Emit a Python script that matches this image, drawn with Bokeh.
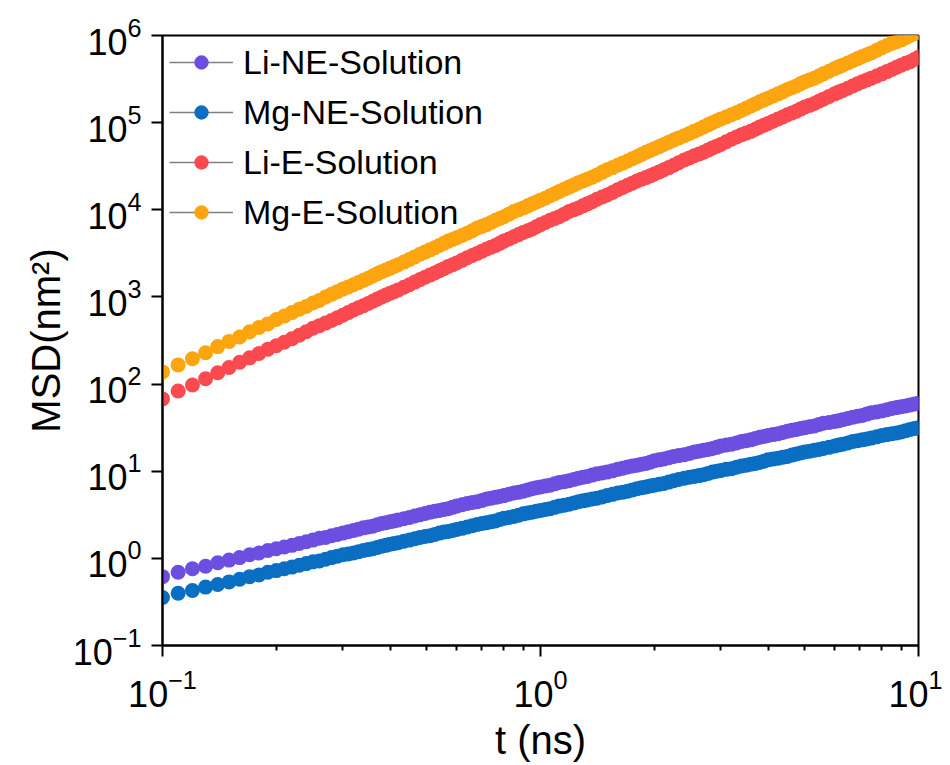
from bokeh.plotting import figure
from bokeh.models import FixedTicker, LogTickFormatter, Legend, LegendItem
from bokeh.embed import file_html
from bokeh.resources import INLINE

# ---- data ----
t_ns = [0.10, 0.11, 0.12, 0.13, 0.14, 0.15, 0.16, 0.17, 0.18, 0.19,
        0.20, 0.21, 0.22, 0.23, 0.24, 0.25, 0.26, 0.27, 0.28, 0.29,
        0.30, 0.31, 0.32, 0.33, 0.34, 0.35, 0.36, 0.37, 0.38, 0.39,
        0.40, 0.41, 0.42, 0.435, 0.45, 0.465, 0.48, 0.495, 0.51, 0.525,
        0.54, 0.555, 0.57, 0.585, 0.60, 0.62, 0.64, 0.66, 0.68, 0.70,
        0.72, 0.74, 0.76, 0.78, 0.80, 0.825, 0.85, 0.875, 0.90, 0.925,
        0.95, 0.975, 1.0, 1.03, 1.06, 1.09, 1.12, 1.155, 1.19, 1.225,
        1.26, 1.295, 1.33, 1.37, 1.41, 1.455, 1.5, 1.55, 1.6, 1.65,
        1.7, 1.75, 1.8, 1.85, 1.9, 1.95, 2.0, 2.06, 2.12, 2.185,
        2.25, 2.32, 2.4, 2.475, 2.55, 2.625, 2.7, 2.775, 2.85, 2.925,
        3.0, 3.1, 3.2, 3.3, 3.4, 3.5, 3.6, 3.7, 3.8, 3.9,
        4.0, 4.125, 4.25, 4.375, 4.5, 4.625, 4.75, 4.875, 5.0, 5.15,
        5.3, 5.45, 5.6, 5.8, 6.0, 6.15, 6.3, 6.5, 6.7, 6.9,
        7.1, 7.3, 7.5, 7.75, 8.0, 8.25, 8.5, 8.75, 9.0, 9.25,
        9.5, 9.75, 10.0]

msd_li_ne = [0.617, 0.692, 0.759, 0.813, 0.891, 0.955, 1.02, 1.10, 1.15, 1.23,
             1.29, 1.35, 1.41, 1.48, 1.55, 1.62, 1.70, 1.74, 1.82, 1.88,
             1.95, 2.02, 2.09, 2.16, 2.24, 2.29, 2.34, 2.43, 2.51, 2.57,
             2.63, 2.69, 2.75, 2.85, 2.95, 3.06, 3.16, 3.27, 3.39, 3.47,
             3.55, 3.63, 3.72, 3.85, 3.98, 4.12, 4.27, 4.37, 4.47, 4.62,
             4.79, 4.90, 5.01, 5.13, 5.25, 5.43, 5.62, 5.75, 5.89, 6.10,
             6.31, 6.46, 6.61, 6.76, 6.92, 7.16, 7.41, 7.59, 7.76, 8.04,
             8.32, 8.51, 8.71, 9.02, 9.33, 9.55, 9.77, 10.1, 10.5, 10.8,
             11.2, 11.5, 11.7, 12.0, 12.3, 12.7, 13.2, 13.5, 13.8, 14.3,
             14.8, 15.1, 15.5, 16.0, 16.6, 17.0, 17.4, 17.8, 18.2, 18.8,
             19.5, 20.0, 20.4, 21.1, 21.9, 22.4, 22.9, 23.7, 24.5, 25.1,
             25.7, 26.3, 26.9, 27.9, 28.8, 29.5, 30.2, 30.9, 31.6, 32.4,
             33.1, 34.3, 35.5, 36.3, 37.2, 38.0, 38.9, 40.3, 41.7, 42.7,
             43.7, 45.2, 46.8, 47.9, 49.0, 50.7, 52.5, 53.7, 55.0, 56.2,
             57.5, 58.9, 60.3]

msd_mg_ne = [0.355, 0.398, 0.427, 0.468, 0.501, 0.537, 0.575, 0.617, 0.646, 0.692,
             0.724, 0.759, 0.794, 0.832, 0.871, 0.912, 0.933, 0.977, 1.02, 1.06,
             1.10, 1.12, 1.15, 1.19, 1.23, 1.26, 1.29, 1.33, 1.38, 1.41,
             1.45, 1.48, 1.51, 1.57, 1.62, 1.68, 1.74, 1.78, 1.82, 1.88,
             1.95, 2.00, 2.04, 2.09, 2.14, 2.21, 2.29, 2.37, 2.45, 2.51,
             2.57, 2.63, 2.69, 2.79, 2.88, 2.95, 3.02, 3.13, 3.24, 3.31,
             3.39, 3.47, 3.55, 3.63, 3.72, 3.85, 3.98, 4.07, 4.17, 4.32,
             4.47, 4.57, 4.68, 4.79, 4.90, 5.07, 5.25, 5.43, 5.62, 5.75,
             5.89, 6.10, 6.31, 6.46, 6.61, 6.76, 6.92, 7.08, 7.24, 7.50,
             7.76, 8.04, 8.32, 8.51, 8.71, 8.91, 9.12, 9.44, 9.77, 10.0,
             10.2, 10.5, 10.7, 11.1, 11.5, 11.7, 12.0, 12.3, 12.6, 13.0,
             13.5, 13.8, 14.1, 14.5, 14.8, 15.3, 15.8, 16.2, 16.6, 17.0,
             17.4, 17.8, 18.2, 18.8, 19.5, 20.0, 20.4, 21.1, 21.9, 22.4,
             22.9, 23.4, 24.0, 24.8, 25.7, 26.3, 26.9, 27.5, 28.2, 29.2,
             30.2, 30.9, 31.6]

msd_li_e = [67.6, 83.2, 97.7, 115, 135, 155, 178, 200, 224, 251,
            275, 302, 331, 363, 398, 437, 468, 501, 537, 575,
            617, 661, 708, 750, 794, 841, 891, 944, 1000, 1050,
            1100, 1150, 1200, 1290, 1380, 1480, 1580, 1680, 1780, 1880,
            2000, 2110, 2240, 2340, 2450, 2630, 2820, 2990, 3160, 3350,
            3550, 3720, 3890, 4120, 4370, 4620, 4900, 5190, 5500, 5750,
            6030, 6380, 6760, 7160, 7590, 7940, 8320, 8910, 9550, 10000,
            10500, 11100, 11700, 12400, 13200, 14000, 14800, 15800, 17000, 18000,
            19100, 20200, 21400, 22400, 23400, 24500, 25700, 27200, 28800, 30500,
            32400, 34700, 37200, 39400, 41700, 43700, 45700, 48400, 51300, 53700,
            56200, 60300, 64600, 68400, 72400, 75900, 79400, 84100, 89100, 93300,
            97700, 104000, 110000, 116000, 123000, 129000, 135000, 143000, 151000, 158000,
            166000, 176000, 186000, 200000, 214000, 224000, 234000, 248000, 263000, 279000,
            295000, 309000, 324000, 343000, 363000, 385000, 407000, 432000, 457000, 479000,
            501000, 531000, 562000]

msd_mg_e = [138, 166, 195, 229, 269, 309, 347, 398, 447, 490,
            550, 603, 661, 724, 776, 851, 912, 1000, 1070, 1150,
            1230, 1300, 1380, 1460, 1550, 1640, 1740, 1840, 1950, 2040,
            2140, 2240, 2340, 2510, 2690, 2880, 3090, 3270, 3470, 3670,
            3890, 4120, 4370, 4570, 4790, 5070, 5370, 5750, 6170, 6460,
            6760, 7160, 7590, 7940, 8320, 8910, 9550, 10000, 10500, 11100,
            11700, 12300, 12900, 13600, 14500, 15300, 16200, 17200, 18200, 19300,
            20400, 21400, 22400, 23700, 25100, 26900, 28800, 30500, 32400, 34300,
            36300, 38500, 40700, 43200, 45700, 47900, 50100, 53100, 56200, 59600,
            63100, 66800, 70800, 75000, 79400, 84100, 89100, 94400, 100000, 105000,
            110000, 116000, 123000, 130000, 138000, 146000, 155000, 164000, 174000, 182000,
            191000, 202000, 214000, 226000, 240000, 251000, 263000, 279000, 295000, 309000,
            324000, 343000, 363000, 389000, 417000, 437000, 457000, 484000, 513000, 543000,
            575000, 603000, 631000, 676000, 724000, 767000, 813000, 851000, 891000, 944000,
            1000000, 1050000, 1100000]

series_names = ["Li-NE-Solution", "Mg-NE-Solution", "Li-E-Solution", "Mg-E-Solution"]
series_values = [msd_li_ne, msd_mg_ne, msd_li_e, msd_mg_e]
series_colors = ["#6C4EE0", "#0A6EC2", "#FA4A50", "#FDA50F"]

x_major_ticks = [0.1, 1, 10]
x_minor_ticks = [0.2, 0.3, 0.4, 0.5, 0.6, 0.7, 0.8, 0.9, 2, 3, 4, 5, 6, 7, 8, 9]
y_major_ticks = [1e-1, 1e0, 1e1, 1e2, 1e3, 1e4, 1e5, 1e6]

for ys in series_values:
    assert len(ys) == len(t_ns)

FONT = "Liberation Sans"

p = figure(width=942, height=764, x_axis_type="log", y_axis_type="log",
           x_range=(0.1, 10), y_range=(0.1, 1e6),
           output_backend="svg", toolbar_location=None,
           min_border_left=162, min_border_right=24,
           min_border_top=35, min_border_bottom=119)

p.grid.visible = False
p.outline_line_color = "black"
p.outline_line_width = 2
p.background_fill_color = "white"
p.border_fill_color = "white"

p.xaxis.ticker = FixedTicker(ticks=x_major_ticks, minor_ticks=x_minor_ticks)
p.yaxis.ticker = FixedTicker(ticks=y_major_ticks, minor_ticks=[])
p.xaxis.formatter = LogTickFormatter()
p.yaxis.formatter = LogTickFormatter()

for ax in (p.xaxis, p.yaxis):
    ax.axis_line_width = 2
    ax.major_tick_line_width = 2
    ax.minor_tick_line_width = 2
    ax.major_tick_in = 0
    ax.major_tick_out = 11
    ax.minor_tick_in = 0
    ax.minor_tick_out = 5
    ax.major_label_text_font = FONT
    ax.major_label_text_font_size = "36px"
    ax.major_label_text_color = "black"
    ax.axis_label_text_font = FONT
    ax.axis_label_text_font_size = "40px"
    ax.axis_label_text_font_style = "normal"
    ax.axis_label_text_color = "black"

p.xaxis.axis_label = "t (ns)"
p.yaxis.axis_label = "MSD(nm²)"
p.xaxis.major_label_standoff = 12
p.yaxis.major_label_standoff = 10
p.xaxis.axis_label_standoff = 8
p.yaxis.axis_label_standoff = 2

items = []
for name, ys, col in zip(series_names, series_values, series_colors):
    # one-point line: invisible in the plot, gives the grey line in the legend key
    ln = p.line(x=t_ns[:1], y=ys[:1], line_color="#808080", line_width=1.5)
    sc = p.scatter(x=t_ns, y=ys, size=15, marker="circle",
                   fill_color=col, line_color=None)
    items.append(LegendItem(label=name, renderers=[ln, sc]))

legend = Legend(items=items, location="top_left",
                margin=7, padding=7, spacing=10,
                glyph_width=64, glyph_height=36, label_height=40,
                label_standoff=10,
                label_text_font=FONT, label_text_font_size="34px",
                label_text_color="black",
                border_line_color=None, background_fill_alpha=0)
p.add_layout(legend)

open("out.html", "w").write(file_html(p, INLINE))
